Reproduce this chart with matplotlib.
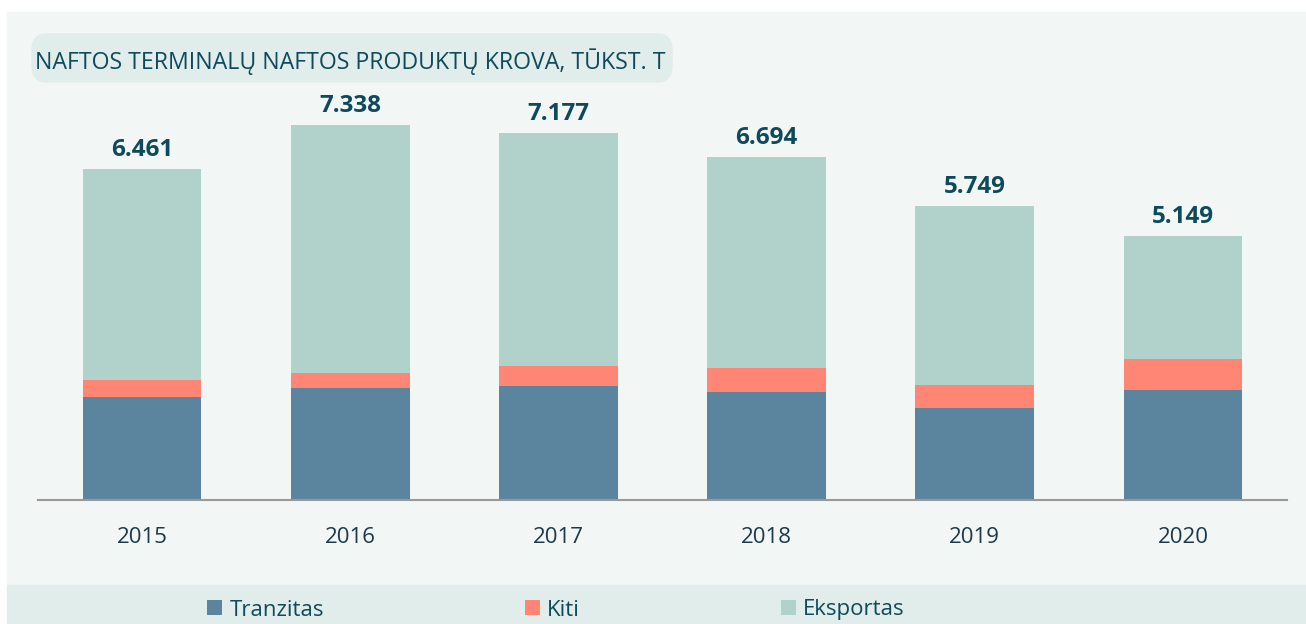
import matplotlib.pyplot as plt
from matplotlib.patches import Rectangle, FancyBboxPatch
import numpy as np

# thousand tonnes
years = ['2015', '2016', '2017', '2018', '2019', '2020']
tranzitas = [2010, 2190, 2220, 2100, 1790, 2150]
kiti = [330, 290, 390, 480, 460, 590]
eksportas = [4121, 4858, 4567, 4114, 3499, 2409]

c_tranz = '#5B849E'
c_kiti = '#FF8675'
c_eksp = '#B0D2CA'
bg = '#F2F6F5'
band = '#E1EDEA'
txt = '#0E4A5C'

plt.rcParams['font.family'] = ['Open Sans', 'DejaVu Sans']

W, H = 1306, 624
fig = plt.figure(figsize=(W / 100, H / 100), dpi=100, facecolor='white')

# background panels
fig.patches.append(Rectangle((7 / W, (H - 585) / H), 1, (585 - 12) / H,
                             transform=fig.transFigure, color=bg, zorder=-2))
fig.patches.append(Rectangle((7 / W, 0), 1, 39 / H,
                             transform=fig.transFigure, color=band, zorder=-2))
fig.patches.append(FancyBboxPatch((32 / W, (H - 82) / H), 640 / W, 48 / H,
                                  boxstyle='round,pad=0,rounding_size=0.012',
                                  transform=fig.transFigure, color=band, zorder=-1,
                                  mutation_aspect=W / H))
fig.text(35 / W, (H - 62) / H, 'NAFTOS TERMINALŲ NAFTOS PRODUKTŲ KROVA, TŪKST. T',
         fontsize=16.7, color=txt, va='center', ha='left')

ax = fig.add_axes([38 / W, (H - 499.5) / H, 1249 / W, 8000 * 0.0511 / H])
ax.set_facecolor('none')
ax.set_zorder(2)

x = np.arange(len(years))
w = 0.57
b1 = np.array(tranzitas)
b2 = b1 + np.array(kiti)
ax.bar(x, tranzitas, w, color=c_tranz, label='Tranzitas')
ax.bar(x, kiti, w, bottom=b1, color=c_kiti, label='Kiti')
ax.bar(x, eksportas, w, bottom=b2, color=c_eksp, label='Eksportas')

totals = b2 + np.array(eksportas)
for xi, t in zip(x, totals):
    ax.annotate(f'{t:,}'.replace(',', '.'), (xi, t), xytext=(0, 5),
                textcoords='offset points', ha='center', va='bottom',
                fontsize=17.5, fontweight='bold', color=txt)

ax.set_xlim(-0.5, 5.5)
ax.set_ylim(0, 8000)
ax.set_xticks(x)
ax.set_xticklabels(years, fontsize=16, color='#1A3A4A')
ax.tick_params(axis='x', length=0, pad=20)
ax.set_yticks([])
for s in ['top', 'right', 'left']:
    ax.spines[s].set_visible(False)
ax.spines['bottom'].set_color('#999999')
ax.spines['bottom'].set_linewidth(1.5)

fig.legend(loc='center', bbox_to_anchor=(556 / W, 14 / H), ncol=3, frameon=False,
           fontsize=16, labelcolor=txt, handlelength=0.68, handleheight=0.68,
           handletextpad=0.32, columnspacing=9.05, borderpad=0)

fig.savefig('out.png', dpi=100, facecolor='white')
